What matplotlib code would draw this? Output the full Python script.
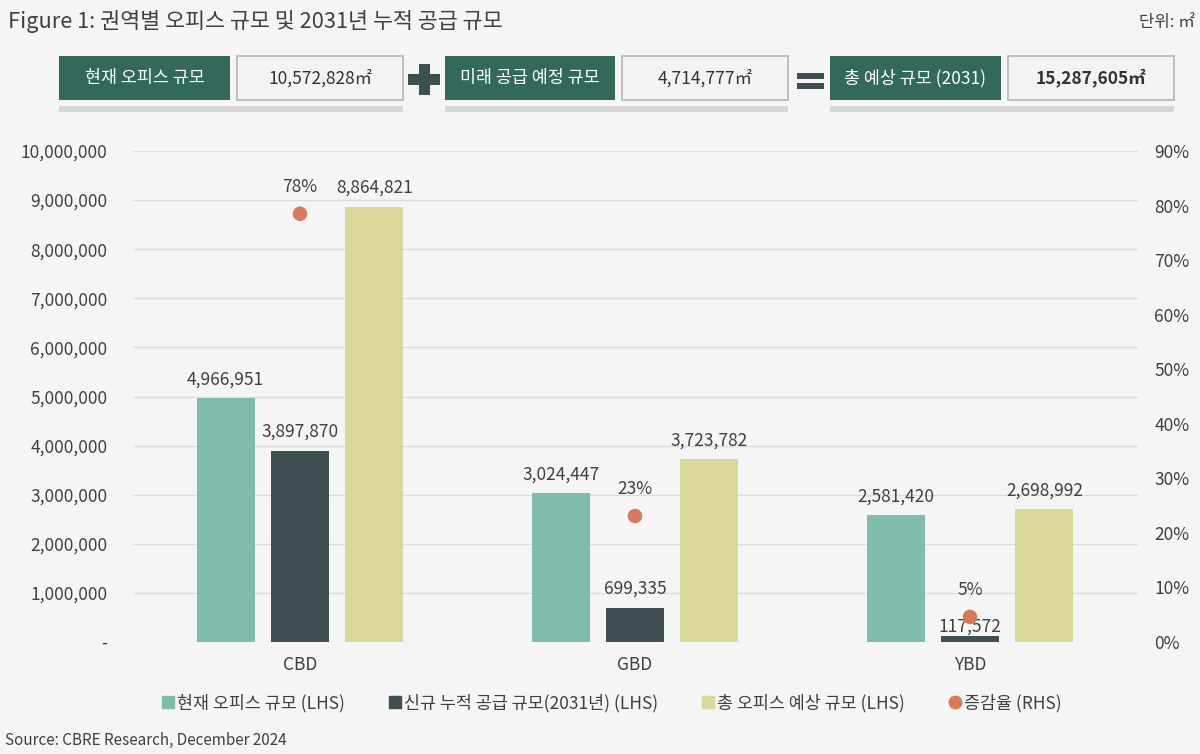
import numpy as np
import matplotlib as mpl
mpl.use('Agg')
import matplotlib.pyplot as plt
from matplotlib.patches import Rectangle
from matplotlib.lines import Line2D
from matplotlib.ticker import FuncFormatter, MultipleLocator

plt.rcParams['font.family'] = ['Noto Sans CJK KR', 'DejaVu Sans']

#
#--- data
#
regions   = ['CBD', 'GBD', 'YBD']
current   = [4966951, 3024447, 2581420]
new_sup   = [3897870, 699335, 117572]
total     = [8864821, 3723782, 2698992]
rate      = [0.785, 0.231, 0.046]

box_labels = ['현재 오피스 규모', '미래 공급 예정 규모', '총 예상 규모 (2031)']
box_values = ['10,572,828㎡', '4,714,777㎡', '15,287,605㎡']

#
#--- colors
#
c_cur   = '#80bcab'
c_new   = '#3f4f52'
c_tot   = '#dbd89c'
c_dot   = '#d57a5a'
c_box   = '#33695a'
c_txt   = '#404040'
bg      = '#f5f5f5'

W, H = 1200, 754
fig = plt.figure(figsize=(12, 7.54), dpi=100, facecolor=bg)

def px(x, y, w, h):
    return (x / W, 1 - (y + h) / H, w / W, h / H)

def add_rect(x, y, w, h, fc, ec='none', lw=0):
    l, b, ww, hh = px(x, y, w, h)
    fig.add_artist(Rectangle((l, b), ww, hh, transform=fig.transFigure,
                             facecolor=fc, edgecolor=ec, lw=lw))

#
#--- title
#
fig.text(8 / W, 1 - 21 / H, 'Figure 1: 권역별 오피스 규모 및 2031년 누적 공급 규모',
         fontsize=15.7, color='#404040', va='center', ha='left')
fig.text(1195 / W, 1 - 22 / H, '단위: ㎡', fontsize=12, color=c_txt, va='center', ha='right')

#
#--- header boxes
#
groups = [(59, 237, 403), (445, 622, 788), (830, 1008, 1174)]
for k, (x0, x1, x2) in enumerate(groups):
    add_rect(x0, 106, x2 - x0, 6, '#d6d6d6')
    add_rect(x0, 56, x1 - x0 - 7, 44, c_box)
    add_rect(x1, 56, x2 - x1, 44, '#f3f3f3', ec='#b5b5b5', lw=1.2)
    fig.text((x0 + (x1 - 7)) / 2 / W, 1 - 78 / H, box_labels[k], color='white',
             fontsize=12.5, ha='center', va='center')
    fig.text((x1 + x2) / 2 / W, 1 - 78 / H, box_values[k], color='#333333',
             fontsize=12.5, ha='center', va='center',
             fontweight='bold' if k == 2 else 'normal')
#
#--- plus and equals signs
#
add_rect(408, 74, 32, 11, c_new)
add_rect(419, 64, 11, 31, c_new)
add_rect(797, 73, 27, 6, c_new)
add_rect(797, 83, 27, 6, c_new)

#
#--- main axes
#
ax = fig.add_axes([132.5 / W, 1 - 642 / H, 1005 / W, 491 / H])
ax.set_facecolor(bg)
x = np.arange(len(regions))
off = 0.222
bw = 0.173
ax.bar(x - off, current, bw, color=c_cur, zorder=3)
ax.bar(x, new_sup, bw, color=c_new, zorder=3)
ax.bar(x + off, total, bw, color=c_tot, zorder=3)

for xs, vals in [(x - off, current), (x, new_sup), (x + off, total)]:
    for xi, v in zip(xs, vals):
        dy = 7 if v > 300000 else 0.5      #--- small bar label sits lower, under the dot
        ax.annotate(f'{v:,}', (xi, v), xytext=(0, dy), textcoords='offset points',
                    ha='center', va='bottom', fontsize=12.5, color=c_txt, zorder=5)

ax.set_xlim(-0.5, 2.5)
ax.set_ylim(0, 10000000)
ax.yaxis.set_major_locator(MultipleLocator(1000000))
ax.yaxis.set_major_formatter(FuncFormatter(lambda v, p: '-' if v == 0 else f'{int(v):,}'))
ax.grid(axis='y', color='#dcdcdc', lw=1.0, zorder=0)
ax.set_xticks(x)
ax.set_xticklabels(regions)
ax.tick_params(axis='both', length=0, labelsize=12.5, labelcolor=c_txt)
ax.tick_params(axis='y', pad=18)
ax.tick_params(axis='x', pad=10)
for s in ax.spines.values():
    s.set_visible(False)

ax2 = ax.twinx()
ax2.scatter(x, rate, s=110, color=c_dot, zorder=4, edgecolors='none')
for xi, r in zip(x, rate):
    ax2.annotate(f'{r * 100:.0f}%', (xi, r), xytext=(0, 13), textcoords='offset points',
                 ha='center', va='bottom', fontsize=12.5, color=c_txt)
ax2.set_ylim(0, 0.9)
ax2.yaxis.set_major_locator(MultipleLocator(0.1))
ax2.yaxis.set_major_formatter(FuncFormatter(lambda v, p: f'{v * 100:.0f}%'))
ax2.tick_params(axis='y', length=0, labelsize=12.5, labelcolor=c_txt, pad=12)
for s in ax2.spines.values():
    s.set_visible(False)

#
#--- legend
#
handles = [
    Line2D([], [], marker='s', color=c_cur, lw=0, markersize=8),
    Line2D([], [], marker='s', color=c_new, lw=0, markersize=8),
    Line2D([], [], marker='s', color=c_tot, lw=0, markersize=8),
    Line2D([], [], marker='o', color=c_dot, lw=0, markersize=9),
]
labels = ['현재 오피스 규모 (LHS)', '신규 누적 공급 규모(2031년) (LHS)',
          '총 오피스 예상 규모 (LHS)', '증감율 (RHS)']
fig.legend(handles, labels, loc='center', bbox_to_anchor=(0.51, 1 - 703 / H), ncol=4,
           frameon=False, fontsize=12.5, labelcolor=c_txt, handlelength=0.6,
           handletextpad=0.2, columnspacing=2.6)

fig.text(5 / W, 1 - 740 / H, 'Source: CBRE Research, December 2024', fontsize=11,
         color=c_txt, va='center', ha='left')

fig.savefig('out.png', dpi=100, facecolor=bg)
